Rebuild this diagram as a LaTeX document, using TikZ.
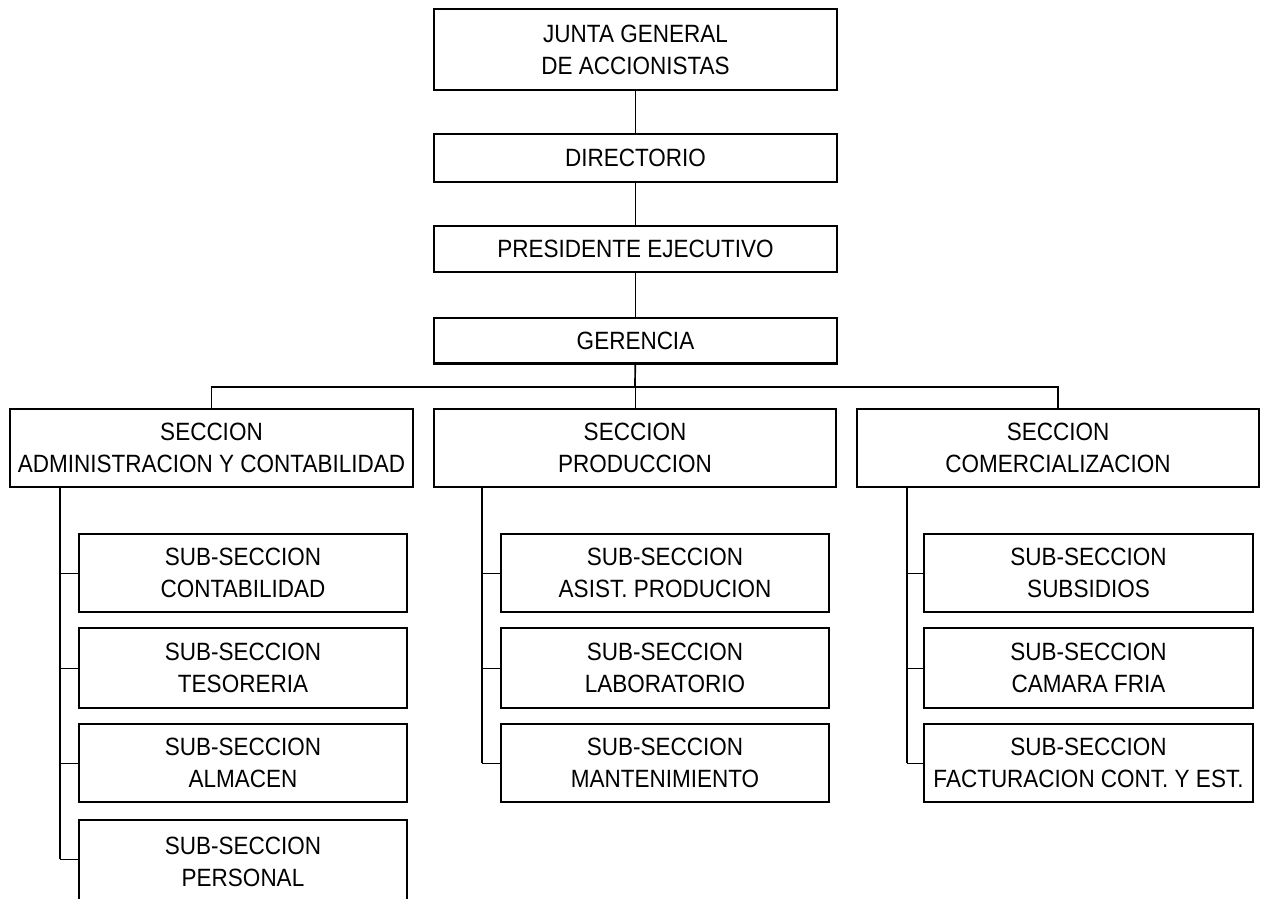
\documentclass[tikz,border=0pt]{standalone}
\usepackage{fontspec}
\setmainfont{Liberation Sans}[FakeStretch=0.9]
\begin{document}
\begin{tikzpicture}[x=1pt,y=-1pt,
  box/.style={draw, line width=2.3pt, inner sep=0pt, align=center,
    font=\fontsize{25}{32}\selectfont},
  sz/.style 2 args={minimum width=#1pt-2.3pt, minimum height=#2pt-2.3pt},
  thin/.style={line width=1pt},
  med/.style={line width=1.7pt}]
\useasboundingbox (0,0) rectangle (1264,898);
\clip (0,0) rectangle (1264,898);
% top chain
\node[box,sz={405}{83}] (junta) at (635.5,49.5) {JUNTA GENERAL\\DE ACCIONISTAS};
\node[box,sz={405}{50}] (dir) at (635.5,158) {DIRECTORIO};
\node[box,sz={405}{48}] (pres) at (635.5,249) {PRESIDENTE EJECUTIVO};
\node[box,sz={405}{48}] (ger) at (635.5,340.5) {GERENCIA};
% sections
\node[box,sz={405}{80}] (secA) at (211.5,448) {SECCION\\ADMINISTRACION Y CONTABILIDAD};
\node[box,sz={404}{80}] (secP) at (635,448) {SECCION\\PRODUCCION};
\node[box,sz={404}{80}] (secC) at (1058,448) {SECCION\\COMERCIALIZACION};
% left column
\node[box,sz={330}{80}] (a1) at (243,573) {SUB-SECCION\\CONTABILIDAD};
\node[box,sz={330}{82}] (a2) at (243,668) {SUB-SECCION\\TESORERIA};
\node[box,sz={330}{80}] (a3) at (243,763) {SUB-SECCION\\ALMACEN};
\node[box,sz={330}{86}] (a4) at (243,862) {SUB-SECCION\\PERSONAL};
% middle column
\node[box,sz={330}{80}] (p1) at (665,573) {SUB-SECCION\\ASIST. PRODUCION};
\node[box,sz={330}{82}] (p2) at (665,668) {SUB-SECCION\\LABORATORIO};
\node[box,sz={330}{80}] (p3) at (665,763) {SUB-SECCION\\MANTENIMIENTO};
% right column
\node[box,sz={331}{80}] (c1) at (1088.5,573) {SUB-SECCION\\SUBSIDIOS};
\node[box,sz={331}{82}] (c2) at (1088.5,668) {SUB-SECCION\\CAMARA FRIA};
\node[box,sz={331}{80}] (c3) at (1088.5,763) {SUB-SECCION\\FACTURACION CONT. Y EST.};
% connectors
\draw[thin] (junta) -- (dir);
\draw[thin] (dir) -- (pres);
\draw[thin] (pres) -- (ger);
\coordinate (bus) at (635,387);
\draw[med] (ger) -- (bus);
\draw[med] (secA.north) |- (bus) -| (secC.north);
\draw[thin] (bus) -- (secP);
% spines
\coordinate (xA) at (60,0);
\coordinate (xP) at (482,0);
\coordinate (xC) at (907,0);
\coordinate (a4w) at ([yshift=-40pt]a4.north west);
\draw[med] (xA |- secA.south) -- (xA |- a4w);
\foreach \n in {a1,a2,a3} \draw[thin] (xA |- \n) -- (\n);
\draw[thin] (xA |- a4w) -- (a4w);
\draw[med] (xP |- secP.south) -- (xP |- p3);
\foreach \n in {p1,p2,p3} \draw[thin] (xP |- \n) -- (\n);
\draw[med] (xC |- secC.south) -- (xC |- c3);
\foreach \n in {c1,c2,c3} \draw[thin] (xC |- \n) -- (\n);
\end{tikzpicture}
\end{document}
